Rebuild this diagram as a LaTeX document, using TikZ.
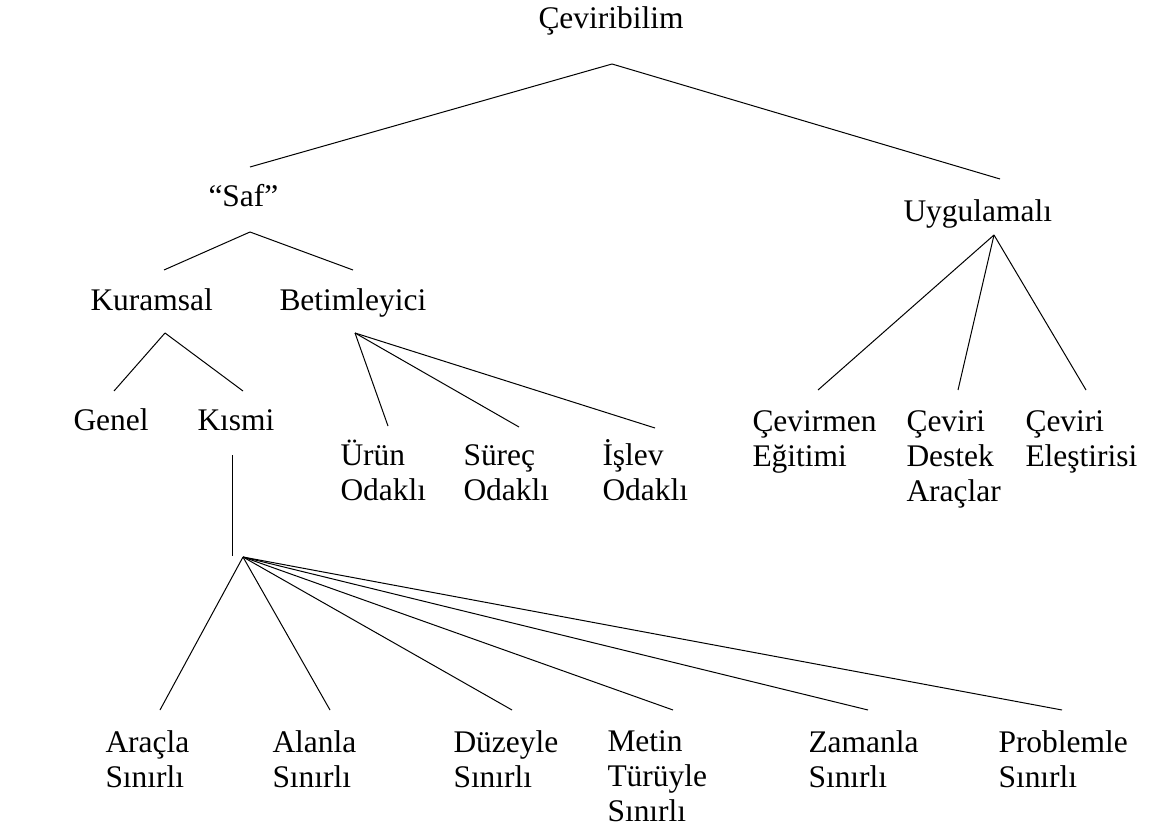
\documentclass[tikz,border=0pt]{standalone}
\usepackage{fontspec}
\setmainfont{Liberation Serif}
\tikzset{every picture/.style={line width=0.75pt}}
\tikzset{lbl/.style={anchor=base west,inner sep=0pt,align=left,font=\fontsize{23.6}{25.9}\selectfont}}

\begin{document}
\begin{tikzpicture}[x=0.75pt,y=0.75pt,yscale=-1,xscale=1]
\path[use as bounding box] (0,0) rectangle (1149,830);

% Text Node (base = last line)
\node[lbl] (root) at (538,29) {Çeviribilim};
% Text Node
\node[lbl] (saf) at (208,207) {“Saf”};
% Text Node
\node[lbl] (uyg) at (903,222) {Uygulamalı};
% Text Node
\node[lbl] (kur) at (90,311) {Kuramsal};
% Text Node
\node[lbl] (bet) at (279,311) {Betimleyici};
% Text Node
\node[lbl] (genel) at (73,431) {Genel};
% Text Node
\node[lbl] (kismi) at (197,431) {Kısmi};
% Text Node
\node[lbl] (urun) at (340,500) {Ürün\\Odaklı};
% Text Node
\node[lbl] (surec) at (463,500) {Süreç\\Odaklı};
% Text Node
\node[lbl] (islev) at (602,500) {İşlev\\Odaklı};
% Text Node
\node[lbl] (egitim) at (752,466) {Çevirmen\\Eğitimi};
% Text Node
\node[lbl] (destek) at (906,501) {Çeviri\\Destek\\Araçlar};
% Text Node
\node[lbl] (elest) at (1025,466) {Çeviri\\Eleştirisi};
% Text Node
\node[lbl] (aracla) at (105,787) {Araçla\\Sınırlı};
% Text Node
\node[lbl] (alanla) at (272,787) {Alanla\\Sınırlı};
% Text Node
\node[lbl] (duzey) at (453,787) {Düzeyle\\Sınırlı};
% Text Node
\node[lbl] (metin) at (607,821) {Metin\\Türüyle\\Sınırlı};
% Text Node
\node[lbl] (zaman) at (808,787) {Zamanla\\Sınırlı};
% Text Node
\node[lbl] (problem) at (998,787) {Problemle\\Sınırlı};

% line ends
\coordinate (root-b) at (612,64);
\coordinate (saf-t) at (250,167);
\coordinate (uyg-t) at (1000,179);
\coordinate (saf-b) at (250,232);
\coordinate (kur-t) at (164,270);
\coordinate (bet-t) at (353,270);
\coordinate (kur-b) at (165,333);
\coordinate (genel-t) at (114,391);
\coordinate (kismi-t) at (243,391);
\coordinate (bet-b) at (355,333);
\coordinate (urun-t) at (388,426);
\coordinate (surec-t) at (519,427);
\coordinate (islev-t) at (655,428);
\coordinate (uyg-b) at (994,235);
\coordinate (egitim-t) at (818,390);
\coordinate (destek-t) at (958,390);
\coordinate (elest-t) at (1086,390);
\coordinate (kismi-b) at (232,455);
\coordinate (fan-l) at (232,556);
\coordinate (fan) at (243,557);
\coordinate (aracla-t) at (160,710);
\coordinate (alanla-t) at (330,710);
\coordinate (duzey-t) at (512,710);
\coordinate (metin-t) at (673,710);
\coordinate (zaman-t) at (868,710);
\coordinate (problem-t) at (1062,710);

%Straight Lines
\draw (root-b) -- (saf-t) ;
\draw (root-b) -- (uyg-t) ;
%Straight Lines
\draw (saf-b) -- (kur-t) ;
\draw (saf-b) -- (bet-t) ;
%Straight Lines
\draw (kur-b) -- (genel-t) ;
\draw (kur-b) -- (kismi-t) ;
%Straight Lines
\draw (bet-b) -- (urun-t) ;
\draw (bet-b) -- (surec-t) ;
\draw (bet-b) -- (islev-t) ;
%Straight Lines
\draw (uyg-b) -- (egitim-t) ;
\draw (uyg-b) -- (destek-t) ;
\draw (uyg-b) -- (elest-t) ;
%Straight Lines
\draw (kismi-b) -- (fan-l) ;
\draw (fan) -- (aracla-t) ;
\draw (fan) -- (alanla-t) ;
\draw (fan) -- (duzey-t) ;
\draw (fan) -- (metin-t) ;
\draw (fan) -- (zaman-t) ;
\draw (fan) -- (problem-t) ;

\end{tikzpicture}
\end{document}
